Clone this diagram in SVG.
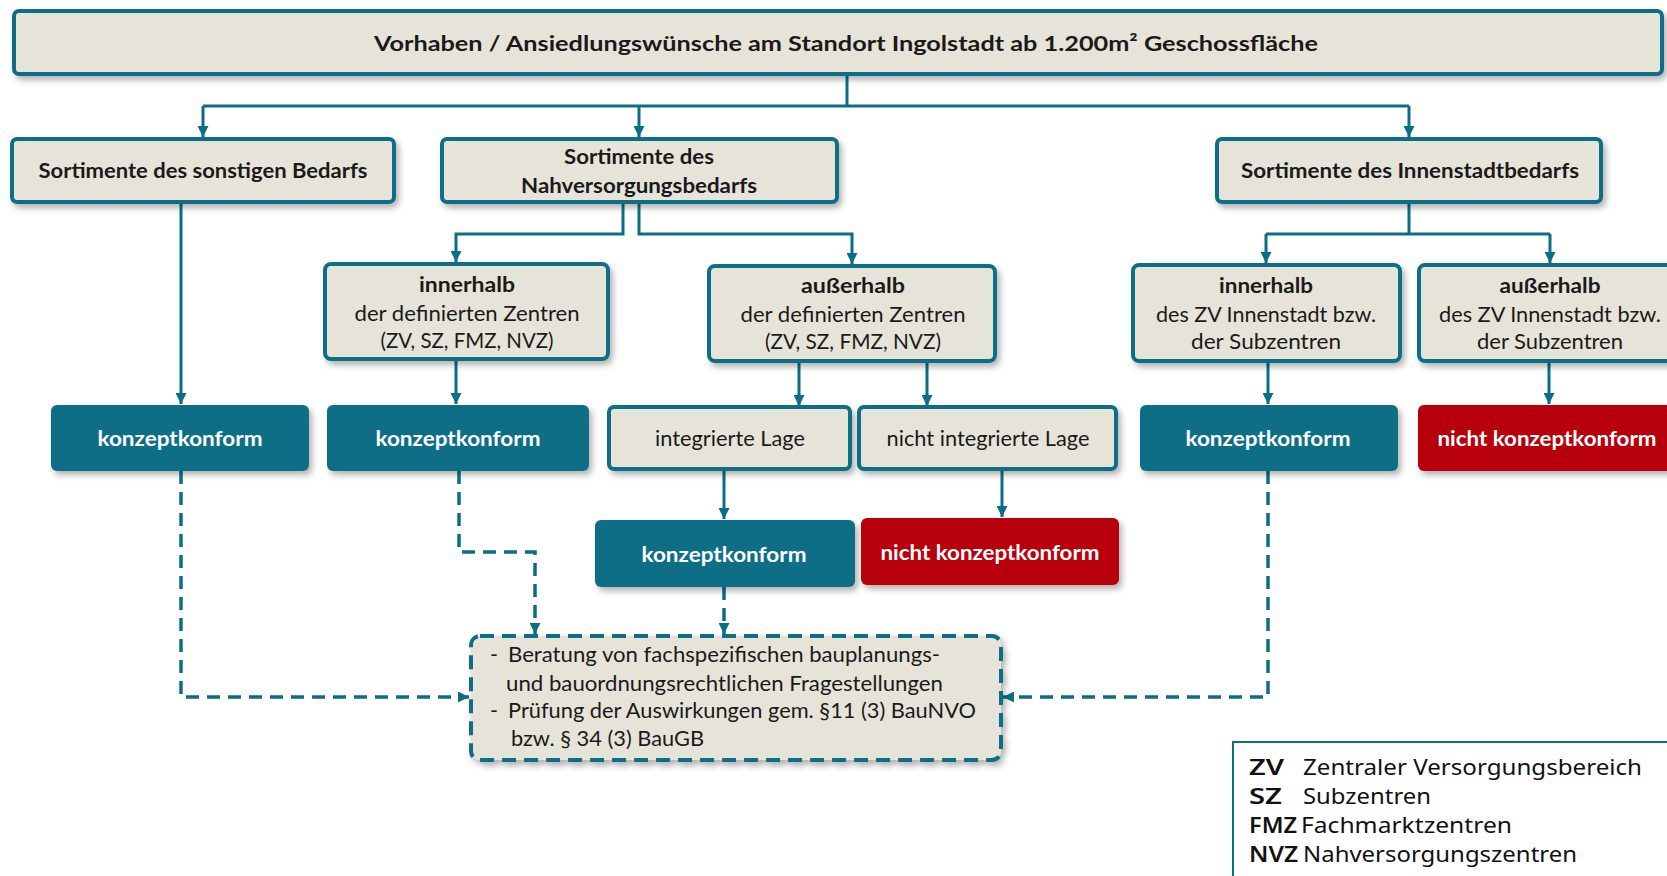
<svg xmlns="http://www.w3.org/2000/svg" width="1667" height="876" viewBox="0 0 1667 876">
<defs>
<style>
.lt{fill:#E6E4D9;stroke:#0B6E85;stroke-width:4}
.tl{fill:#0B6E85}
.rd{fill:#B8000A}
.t{font-family:Lato,"Liberation Sans",sans-serif;font-size:21.5px;fill:#1a1a1a;text-anchor:middle}
.st{font-family:Lato,"Liberation Sans",sans-serif;font-size:21.5px;fill:#1a1a1a;text-anchor:start}
.b{font-weight:bold}
.w{fill:#ffffff;font-weight:bold}
.ln{fill:none;stroke:#0B6E85;stroke-width:3}
.ds{fill:none;stroke:#0B6E85;stroke-width:3.5;stroke-dasharray:13 8}
.lg{font-family:"Noto Sans","Liberation Sans",sans-serif;font-size:21px;fill:#111}
</style>
<filter id="sh" x="-10%" y="-20%" width="130%" height="150%">
<feDropShadow dx="3" dy="4" stdDeviation="3" flood-color="#000" flood-opacity="0.3"/>
</filter>
<marker id="ar" viewBox="0 0 10 10" refX="10" refY="5" markerWidth="11" markerHeight="11" markerUnits="userSpaceOnUse" orient="auto">
<path d="M0,0 L10,5 L0,10 z" fill="#0B6E85"/>
</marker>
</defs>
<rect width="1667" height="876" fill="#ffffff"/>

<g id="connectors">
<path class="ln" d="M847,74 V106"/>
<path class="ln" d="M203,106 H1409"/>
<path class="ln" d="M203,106 V137" marker-end="url(#ar)"/>
<path class="ln" d="M639,106 V137" marker-end="url(#ar)"/>
<path class="ln" d="M1409,106 V137" marker-end="url(#ar)"/>
<path class="ln" d="M181,202 V404" marker-end="url(#ar)"/>
<path class="ln" d="M623,202 V234 H456 V262" marker-end="url(#ar)"/>
<path class="ln" d="M639,202 V234 H852 V264" marker-end="url(#ar)"/>
<path class="ln" d="M1409,202 V234"/>
<path class="ln" d="M1266,234 H1550"/>
<path class="ln" d="M1266,234 V263" marker-end="url(#ar)"/>
<path class="ln" d="M1550,234 V263" marker-end="url(#ar)"/>
<path class="ln" d="M456,359 V404" marker-end="url(#ar)"/>
<path class="ln" d="M799,361 V406" marker-end="url(#ar)"/>
<path class="ln" d="M927,361 V406" marker-end="url(#ar)"/>
<path class="ln" d="M1268,361 V404" marker-end="url(#ar)"/>
<path class="ln" d="M1549,361 V404" marker-end="url(#ar)"/>
<path class="ln" d="M724,469 V519" marker-end="url(#ar)"/>
<path class="ln" d="M1002,469 V517" marker-end="url(#ar)"/>
<path class="ds" d="M181,471 V697 H469" marker-end="url(#ar)"/>
<path class="ds" d="M459,471 V552 H535 V634" marker-end="url(#ar)"/>
<path class="ds" d="M724,587 V634" marker-end="url(#ar)"/>
<path class="ds" d="M1268,471 V697 H1003" marker-end="url(#ar)"/>
</g>

<g id="top">
<rect class="lt" x="14" y="11" width="1648" height="63" rx="5" filter="url(#sh)"/>
<text class="t b" x="846" y="51" font-size="25" textLength="944" lengthAdjust="spacingAndGlyphs">Vorhaben / Ansiedlungswünsche am Standort Ingolstadt ab 1.200m² Geschossfläche</text>
</g>

<g id="sonstig">
<rect class="lt" x="12" y="139" width="382" height="63" rx="5" filter="url(#sh)"/>
<text class="t b" x="203" y="178" textLength="329" lengthAdjust="spacingAndGlyphs">Sortimente des sonstigen Bedarfs</text>
</g>

<g id="nahversorgung">
<rect class="lt" x="442" y="139" width="395" height="63" rx="5" filter="url(#sh)"/>
<text class="t b" x="639" y="164" textLength="150" lengthAdjust="spacingAndGlyphs">Sortimente des</text>
<text class="t b" x="639" y="193" textLength="236" lengthAdjust="spacingAndGlyphs">Nahversorgungsbedarfs</text>
</g>

<g id="innenstadt">
<rect class="lt" x="1217" y="139" width="384" height="63" rx="5" filter="url(#sh)"/>
<text class="t b" x="1410" y="178" textLength="338" lengthAdjust="spacingAndGlyphs">Sortimente des Innenstadtbedarfs</text>
</g>

<g id="innerhalb-zentren">
<rect class="lt" x="325" y="264" width="283" height="95" rx="6" filter="url(#sh)"/>
<text class="t b" x="467" y="292" textLength="96" lengthAdjust="spacingAndGlyphs">innerhalb</text>
<text class="t" x="467" y="321" textLength="225" lengthAdjust="spacingAndGlyphs">der definierten Zentren</text>
<text class="t" x="467" y="348" textLength="173" lengthAdjust="spacingAndGlyphs">(ZV, SZ, FMZ, NVZ)</text>
</g>

<g id="ausserhalb-zentren">
<rect class="lt" x="709" y="266" width="286" height="95" rx="6" filter="url(#sh)"/>
<text class="t b" x="853" y="293" textLength="104" lengthAdjust="spacingAndGlyphs">außerhalb</text>
<text class="t" x="853" y="322" textLength="225" lengthAdjust="spacingAndGlyphs">der definierten Zentren</text>
<text class="t" x="853" y="349" textLength="176" lengthAdjust="spacingAndGlyphs">(ZV, SZ, FMZ, NVZ)</text>
</g>

<g id="innerhalb-innenstadt">
<rect class="lt" x="1133" y="265" width="267" height="96" rx="6" filter="url(#sh)"/>
<text class="t b" x="1266" y="293" textLength="94" lengthAdjust="spacingAndGlyphs">innerhalb</text>
<text class="t" x="1266" y="322" textLength="220" lengthAdjust="spacingAndGlyphs">des ZV Innenstadt bzw.</text>
<text class="t" x="1266" y="349" textLength="150" lengthAdjust="spacingAndGlyphs">der  Subzentren</text>
</g>

<g id="ausserhalb-innenstadt">
<rect class="lt" x="1419" y="265" width="270" height="96" rx="6" filter="url(#sh)"/>
<text class="t b" x="1550" y="293" textLength="101" lengthAdjust="spacingAndGlyphs">außerhalb</text>
<text class="t" x="1550" y="322" textLength="222" lengthAdjust="spacingAndGlyphs">des ZV Innenstadt bzw.</text>
<text class="t" x="1550" y="349" textLength="146" lengthAdjust="spacingAndGlyphs">der Subzentren</text>
</g>

<g id="konform-1">
<rect class="tl" x="51" y="405" width="258" height="66" rx="6" filter="url(#sh)"/>
<text class="t w" x="180" y="446" textLength="165" lengthAdjust="spacingAndGlyphs">konzeptkonform</text>
</g>

<g id="konform-2">
<rect class="tl" x="327" y="405" width="262" height="66" rx="6" filter="url(#sh)"/>
<text class="t w" x="458" y="446" textLength="165" lengthAdjust="spacingAndGlyphs">konzeptkonform</text>
</g>

<g id="integrierte-lage">
<rect class="lt" x="609" y="407" width="241" height="62" rx="5" filter="url(#sh)"/>
<text class="t" x="730" y="446" textLength="150" lengthAdjust="spacingAndGlyphs">integrierte Lage</text>
</g>

<g id="nicht-integrierte-lage">
<rect class="lt" x="859" y="407" width="257" height="62" rx="5" filter="url(#sh)"/>
<text class="t" x="988" y="446" textLength="203" lengthAdjust="spacingAndGlyphs">nicht integrierte Lage</text>
</g>

<g id="konform-3">
<rect class="tl" x="1140" y="405" width="258" height="66" rx="6" filter="url(#sh)"/>
<text class="t w" x="1268" y="446" textLength="165" lengthAdjust="spacingAndGlyphs">konzeptkonform</text>
</g>

<g id="nicht-konform-1">
<rect class="rd" x="1418" y="405" width="270" height="66" rx="6" filter="url(#sh)"/>
<text class="t w" x="1547" y="446" textLength="219" lengthAdjust="spacingAndGlyphs">nicht konzeptkonform</text>
</g>

<g id="konform-4">
<rect class="tl" x="595" y="520" width="260" height="67" rx="6" filter="url(#sh)"/>
<text class="t w" x="724" y="562" textLength="165" lengthAdjust="spacingAndGlyphs">konzeptkonform</text>
</g>

<g id="nicht-konform-2">
<rect class="rd" x="861" y="518" width="258" height="67" rx="6" filter="url(#sh)"/>
<text class="t w" x="990" y="560" textLength="219" lengthAdjust="spacingAndGlyphs">nicht konzeptkonform</text>
</g>

<g id="beratung">
<rect x="471" y="636" width="530" height="124" rx="9" fill="#E6E4D9" stroke="#0B6E85" stroke-width="4" stroke-dasharray="14 8" filter="url(#sh)"/>
<text class="st" x="490" y="662">-</text>
<text class="st" x="508" y="662" textLength="432" lengthAdjust="spacingAndGlyphs">Beratung von fachspezifischen bauplanungs-</text>
<text class="st" x="506" y="691" textLength="437" lengthAdjust="spacingAndGlyphs">und bauordnungsrechtlichen Fragestellungen</text>
<text class="st" x="490" y="718">-</text>
<text class="st" x="508" y="718" textLength="468" lengthAdjust="spacingAndGlyphs">Prüfung der Auswirkungen gem. §11 (3) BauNVO</text>
<text class="st" x="511" y="746" textLength="193" lengthAdjust="spacingAndGlyphs">bzw. § 34 (3) BauGB</text>
</g>

<g id="legende">
<rect x="1233" y="742" width="460" height="160" fill="#ffffff" stroke="#0B6E85" stroke-width="2"/>
<text class="lg" x="1249" y="775" font-weight="600" textLength="35" lengthAdjust="spacingAndGlyphs">ZV</text>
<text class="lg" x="1303" y="775" textLength="339" lengthAdjust="spacingAndGlyphs">Zentraler  Versorgungsbereich</text>
<text class="lg" x="1249" y="804" font-weight="600" textLength="33" lengthAdjust="spacingAndGlyphs">SZ</text>
<text class="lg" x="1303" y="804" textLength="128" lengthAdjust="spacingAndGlyphs">Subzentren</text>
<text class="lg" x="1249" y="833" font-weight="600" textLength="48" lengthAdjust="spacingAndGlyphs">FMZ</text>
<text class="lg" x="1301" y="833" textLength="211" lengthAdjust="spacingAndGlyphs">Fachmarktzentren</text>
<text class="lg" x="1249" y="862" font-weight="600" textLength="49" lengthAdjust="spacingAndGlyphs">NVZ</text>
<text class="lg" x="1303" y="862" textLength="274" lengthAdjust="spacingAndGlyphs">Nahversorgungszentren</text>
</g>
</svg>
